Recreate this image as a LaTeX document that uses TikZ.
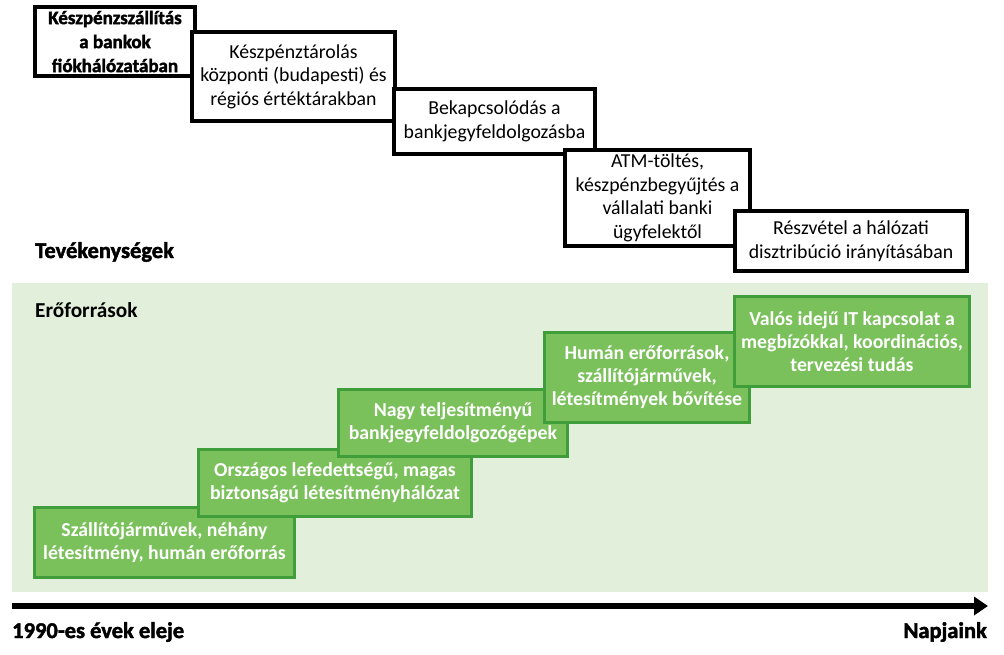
\documentclass[tikz,border=0pt]{standalone}
\usepackage{fontspec}
\setmainfont{Carlito}
\newfontfamily\heavyfont{Carlito}[FakeBold=2, BoldFeatures={FakeBold=2}]
\usepackage{tikz}
\usetikzlibrary{positioning,arrows.meta}
\definecolor{resbg}{HTML}{E2EFDA}
\definecolor{resfill}{HTML}{7AC15B}
\definecolor{resline}{HTML}{3F9D3A}

\begin{document}
\begin{tikzpicture}[
  x=1pt, y=-1pt,
  font=\fontsize{19.8}{23.5}\selectfont,
  act/.style={draw, line width=4pt, fill=white, align=center, inner sep=1pt},
  res/.style={draw=resline, line width=3pt, fill=resfill, text=white, align=center, inner sep=1pt, font=\fontsize{19.8}{23}\selectfont\bfseries},
  lbl/.style={inner sep=0pt, font=\fontsize{21.3}{25}\selectfont\bfseries},
  heavy/.style={inner sep=0pt, font=\fontsize{22.5}{26}\selectfont\heavyfont\bfseries},
  timeline/.style={-{Triangle[length=14pt, width=18pt]}, line width=6pt}]
  \useasboundingbox (0,0) rectangle (1004,654);
  % resources band
  \fill[resbg] (12,283) rectangle (988,592);
  \node[lbl, anchor=base west] (ero) at (35,317) {Erőforrások};
  \node[res, minimum width=260pt, minimum height=70pt] (veh) at (164.5,542.5) {Szállítójárművek, néhány\\létesítmény, humán erőforrás};
  \node[res, minimum width=273pt, minimum height=67pt] (sites) at (335,483) {Országos lefedettségű, magas\\biztonságú létesítményhálózat};
  \node[res, minimum width=229pt, minimum height=67pt] (machines) at (453,423) {Nagy teljesítményű\\bankjegyfeldolgozógépek};
  \node[res, minimum width=205pt, minimum height=90pt] (growth) at (647,377.5) {Humán erőforrások,\\szállítójárművek,\\létesítmények bővítése};
  \node[res, minimum width=235pt, minimum height=90pt] (itlink) at (852,341.5) {Valós idejű IT kapcsolat a\\megbízókkal, koordinációs,\\tervezési tudás};
  % activities
  \node[heavy, anchor=base west] (tev) at (35,258) {Tevékenységek};
  \node[act, minimum width=160pt, minimum height=69pt, font=\fontsize{19}{24}\selectfont\heavyfont\bfseries] (cash) at (115,41.5) {Készpénzszállítás\\a bankok\\fiókhálózatában};
  \node[act, minimum width=203pt, minimum height=89pt] (vault) at (293.5,76.5) {Készpénztárolás\\központi (budapesti) és\\régiós értéktárakban};
  \node[act, minimum width=201pt, minimum height=65pt] (proc) at (494.5,121.5) {Bekapcsolódás a\\bankjegyfeldolgozásba};
  \node[act, minimum width=185pt, minimum height=96pt] (atm) at (657.5,198) {ATM-töltés,\\készpénzbegyűjtés a\\vállalati banki\\ügyfelektől};
  \node[act, minimum width=232pt, minimum height=60pt] (netw) at (851,241) {Részvétel a hálózati\\disztribúció irányításában};
  % time axis
  \coordinate (tstart) at (12,606);
  \coordinate (tend) at (988,606);
  \draw[timeline] (tstart) -- (tend);
  \node[heavy, anchor=base west] (start) at (12,638) {1990-es évek eleje};
  \node[heavy, anchor=base east] (now) at (987,638) {Napjaink};
\end{tikzpicture}
\end{document}
